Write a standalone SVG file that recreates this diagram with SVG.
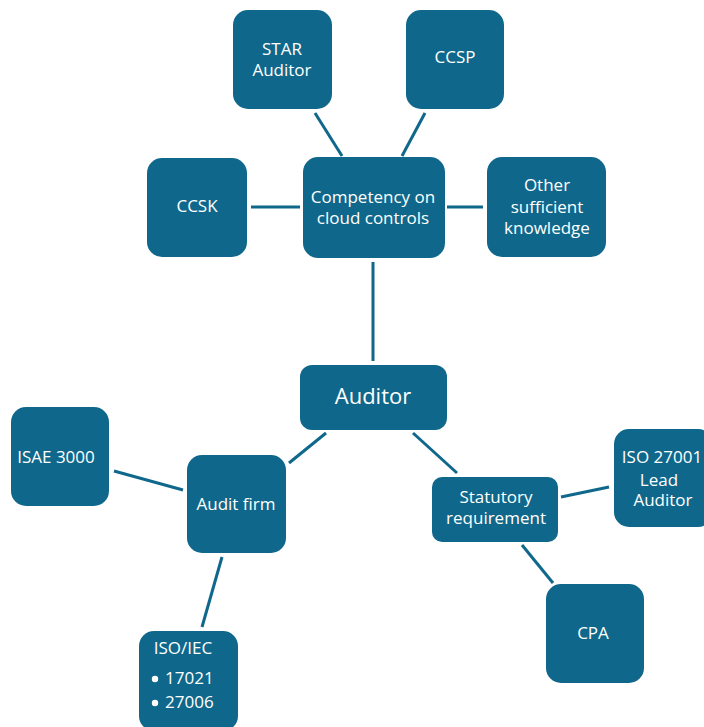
<svg xmlns="http://www.w3.org/2000/svg" width="704" height="727" viewBox="0 0 704 727">
<style>
.n{fill:#0f688b}
.t{font-family:"Open Sans","Noto Sans",sans-serif;font-size:17px;fill:#fff;text-anchor:middle}
.c line{stroke:#0f688b;stroke-width:3}
</style>
<rect width="704" height="727" fill="#fff"/>
<g class="c" id="connectors">
<line x1="315" y1="113" x2="342" y2="156"/>
<line x1="425" y1="113" x2="402" y2="156"/>
<line x1="251" y1="207" x2="300" y2="207"/>
<line x1="447" y1="207" x2="483" y2="207"/>
<line x1="373" y1="262" x2="373" y2="361"/>
<line x1="326" y1="433" x2="289" y2="463"/>
<line x1="114" y1="471" x2="183" y2="490"/>
<line x1="222" y1="557" x2="202" y2="627"/>
<line x1="413" y1="433" x2="457" y2="473"/>
<line x1="561" y1="497" x2="609" y2="487"/>
<line x1="522" y1="545" x2="553" y2="583"/>
</g>
<g id="star"><rect class="n" x="233" y="10" width="99" height="99" rx="15"/><text class="t" x="282" y="55">STAR</text><text class="t" x="282" y="76">Auditor</text></g>
<g id="ccsp"><rect class="n" x="406" y="10" width="98" height="99" rx="15"/><text class="t" x="455" y="63">CCSP</text></g>
<g id="ccsk"><rect class="n" x="147" y="158" width="100" height="99" rx="15"/><text class="t" x="197" y="212">CCSK</text></g>
<g id="competency"><rect class="n" x="303" y="157" width="142" height="101" rx="15"/><text class="t" x="373" y="203">Competency on</text><text class="t" x="373" y="224">cloud controls</text></g>
<g id="other"><rect class="n" x="487" y="157" width="119" height="100" rx="15"/><text class="t" x="547" y="191">Other</text><text class="t" x="547" y="213">sufficient</text><text class="t" x="547" y="234">knowledge</text></g>
<g id="auditor"><rect class="n" x="300" y="365" width="147" height="65" rx="12"/><text class="t" x="373" y="404" style="font-size:22px">Auditor</text></g>
<g id="isae"><rect class="n" x="11" y="407" width="98" height="99" rx="15"/><text class="t" x="56" y="463">ISAE 3000</text></g>
<g id="auditfirm"><rect class="n" x="187" y="455" width="99" height="98" rx="15"/><text class="t" x="236" y="510">Audit firm</text></g>
<g id="isoiec"><rect class="n" x="139" y="631" width="99" height="100" rx="15"/><text class="t" x="183" y="654">ISO/IEC</text><circle cx="155" cy="679" r="3.2" fill="#fff"/><text class="t" x="165" y="684" style="text-anchor:start">17021</text><circle cx="155" cy="703" r="3.2" fill="#fff"/><text class="t" x="165" y="708" style="text-anchor:start">27006</text></g>
<g id="statutory"><rect class="n" x="432" y="477" width="126" height="65" rx="10"/><text class="t" x="496" y="503">Statutory</text><text class="t" x="496" y="524">requirement</text></g>
<g id="iso27001"><rect class="n" x="614" y="429" width="99" height="98" rx="15"/><text class="t" x="662" y="463">ISO 27001</text><text class="t" x="659" y="486">Lead</text><text class="t" x="663" y="506">Auditor</text></g>
<g id="cpa"><rect class="n" x="546" y="584" width="98" height="99" rx="15"/><text class="t" x="593" y="639">CPA</text></g>
</svg>
